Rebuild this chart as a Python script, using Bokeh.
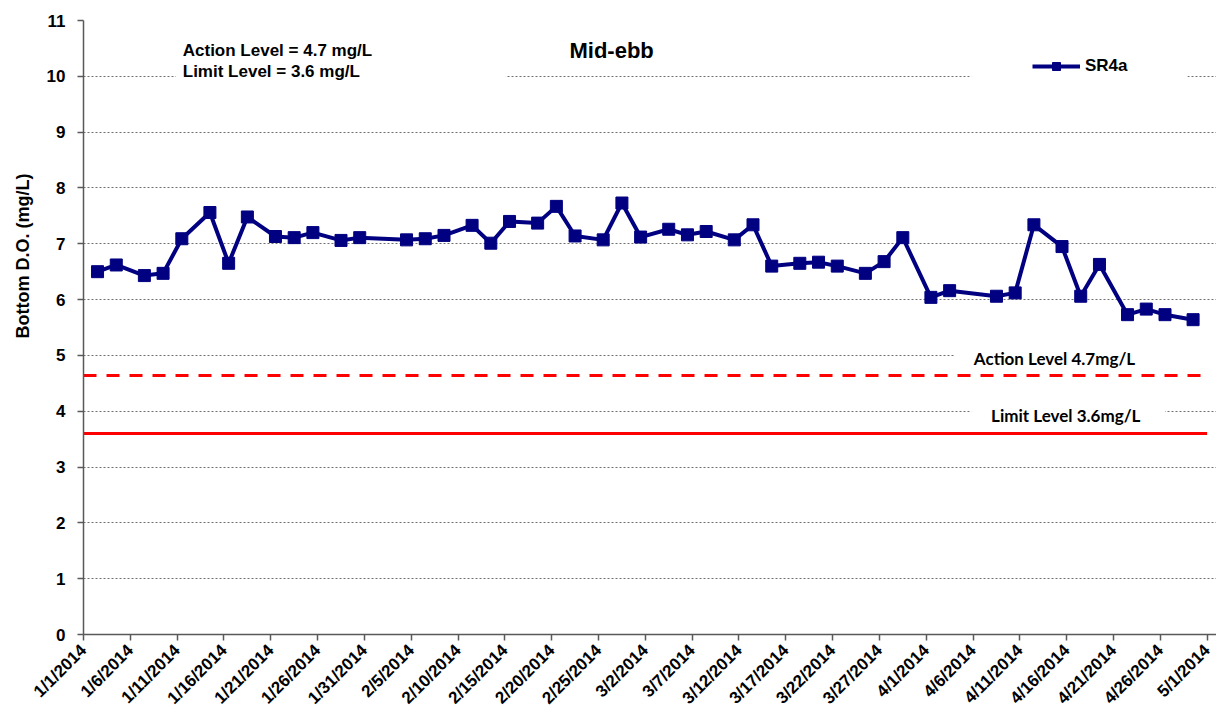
import numpy as np
import pandas as pd
from datetime import datetime, timedelta
from bokeh.plotting import figure
from bokeh.models import (Range1d, FixedTicker, Label, BoxAnnotation, Legend,
                          LegendItem, CustomJSTickFormatter, Title)
from bokeh.embed import file_html
from bokeh.resources import INLINE

# ---------------- data ----------------
sample_dates = ["2014-01-02", "2014-01-04", "2014-01-07", "2014-01-09", "2014-01-11",
                "2014-01-14", "2014-01-16", "2014-01-18", "2014-01-21", "2014-01-23",
                "2014-01-25", "2014-01-28", "2014-01-30", "2014-02-04", "2014-02-06",
                "2014-02-08", "2014-02-11", "2014-02-13", "2014-02-15", "2014-02-18",
                "2014-02-20", "2014-02-22", "2014-02-25", "2014-02-27", "2014-03-01",
                "2014-03-04", "2014-03-06", "2014-03-08", "2014-03-11", "2014-03-13",
                "2014-03-15", "2014-03-18", "2014-03-20", "2014-03-22", "2014-03-25",
                "2014-03-27", "2014-03-29", "2014-04-01", "2014-04-03", "2014-04-08",
                "2014-04-10", "2014-04-12", "2014-04-15", "2014-04-17", "2014-04-19",
                "2014-04-22", "2014-04-24", "2014-04-26", "2014-04-29"]
sr4a_values = [6.50, 6.62, 6.43, 6.47, 7.09, 7.56, 6.65, 7.48, 7.13, 7.11,
               7.20, 7.06, 7.11, 7.07, 7.09, 7.15, 7.33, 7.01, 7.40, 7.37,
               7.67, 7.14, 7.07, 7.73, 7.12, 7.26, 7.16, 7.22, 7.07, 7.34,
               6.60, 6.65, 6.67, 6.60, 6.47, 6.68, 7.11, 6.04, 6.16, 6.06,
               6.12, 7.34, 6.95, 6.06, 6.63, 5.73, 5.83, 5.73, 5.64]
series_name = "SR4a"

action_level_line = 4.64
limit_level_line = 3.6
level_line_dates = ["2014-01-01", "2014-05-01"]

tick_labels = ["1/1/2014", "1/6/2014", "1/11/2014", "1/16/2014", "1/21/2014",
               "1/26/2014", "1/31/2014", "2/5/2014", "2/10/2014", "2/15/2014",
               "2/20/2014", "2/25/2014", "3/2/2014", "3/7/2014", "3/12/2014",
               "3/17/2014", "3/22/2014", "3/27/2014", "4/1/2014", "4/6/2014",
               "4/11/2014", "4/16/2014", "4/21/2014", "4/26/2014", "5/1/2014"]
y_ticks = list(range(0, 12))

# ---------------- helpers ----------------
def ms(d):
    return pd.Timestamp(d).value / 1e6

base = datetime(2014, 1, 1)
def day(n):
    return ms(base + timedelta(days=n))

# Excel date axis: points sit in the middle of their day
x_pts = pd.to_datetime(sample_dates) + pd.Timedelta(hours=12)
tick_ms = [ms(pd.to_datetime(t, format="%m/%d/%Y")) for t in tick_labels]

NAVY = "#000080"
RED = "#FF0000"
FONT = "Liberation Sans"
W, H = 1216, 717

p = figure(width=W, height=H, x_axis_type="datetime",
           x_range=Range1d(day(0), day(121.0)), y_range=Range1d(0, 11),
           output_backend="svg", toolbar_location=None,
           min_border_left=83, min_border_right=0, min_border_top=20,
           min_border_bottom=82)
p.outline_line_color = None
p.background_fill_color = "white"

# grid
p.xgrid.visible = False
p.ygrid.grid_line_color = "#707070"
p.ygrid.grid_line_dash = "2 2"
p.ygrid.grid_line_width = 1
p.yaxis.ticker = FixedTicker(ticks=y_ticks)
p.xaxis.ticker = FixedTicker(ticks=tick_ms)
p.xaxis.formatter = CustomJSTickFormatter(args=dict(tvals=tick_ms, tlabels=tick_labels), code="""
let best = -1, bd = Infinity;
for (let i = 0; i < tvals.length; i++) { const d = Math.abs(tvals[i] - tick); if (d < bd) { bd = d; best = i; } }
return bd < 3600000 ? tlabels[best] : '';
""")

for ax in (p.xaxis, p.yaxis):
    ax.axis_line_color = "#595959"
    ax.axis_line_width = 1.5
    ax.major_tick_line_color = "#595959"
    ax.major_tick_line_width = 1.5
    ax.major_tick_out = 6
    ax.major_tick_in = 0
    ax.minor_tick_line_color = None
    ax.major_label_text_font = FONT
    ax.major_label_text_font_style = "bold"
    ax.major_label_text_color = "black"
p.yaxis.major_label_text_font_size = "17px"
p.xaxis.major_label_text_font_size = "17px"
p.xaxis.major_label_orientation = np.pi / 4
p.yaxis.major_label_standoff = 12
p.xaxis.major_label_standoff = 7

# y-axis title, sitting above the centre as in the original
p.add_layout(Title(text="Bottom D.O. (mg/L)", align="right", offset=153,
                   vertical_align="middle", standoff=20, text_font=FONT,
                   text_font_style="bold", text_font_size="18px",
                   text_color="black"), "left")

# level lines
lvl_x = pd.to_datetime(level_line_dates)
p.line(lvl_x, [action_level_line] * 2, line_color=RED, line_width=3, line_dash="13 10")
p.line(lvl_x, [limit_level_line] * 2, line_color=RED, line_width=3)

# series
ln = p.line(x_pts, sr4a_values, line_color=NAVY, line_width=4)
sc = p.scatter(x_pts, sr4a_values, marker="square", size=12,
               fill_color=NAVY, line_color=NAVY)

# white boxes behind texts (hide gridlines as in the original)
for l, r, b, t in [(9.86, 45.1, 9.7, 10.8), (94.8, 117.9, 9.7, 10.8),
                   (93.0, 121.5, 4.78, 5.2), (94.8, 115.5, 3.75, 4.2)]:
    p.add_layout(BoxAnnotation(left=day(l), right=day(r), bottom=b, top=t,
                               fill_color="white", fill_alpha=1.0, line_alpha=0))

# texts
def lab(x, y, text, size, font=FONT, align="left", baseline="alphabetic"):
    p.add_layout(Label(x=x, y=y, text=text, text_font=font, text_font_style="bold",
                       text_font_size=size, text_color="black", text_align=align,
                       text_baseline=baseline))

lab(day(10.6), 10.46, "Action Level  = 4.7 mg/L", "17px")
lab(day(10.6), 10.08, "Limit Level  = 3.6 mg/L", "17px")
lab(day(56.4), 10.47, "Mid-ebb", "22px", align="center", baseline="middle")
lab(day(103.7), 4.94, "Action Level 4.7mg/L", "17px", font="Lato", align="center", baseline="middle")
lab(day(104.9), 3.92, "Limit Level 3.6mg/L", "17px", font="Lato", align="center", baseline="middle")

legend = Legend(items=[LegendItem(label=series_name, renderers=[ln, sc])],
                location=(949, 558), padding=0, margin=0, glyph_width=48,
                glyph_height=20, label_standoff=5, background_fill_alpha=0,
                border_line_alpha=0, label_text_font=FONT, label_text_color="black",
                label_text_font_style="bold", label_text_font_size="17px")
p.add_layout(legend)

open("out.html", "w").write(file_html(p, INLINE))
